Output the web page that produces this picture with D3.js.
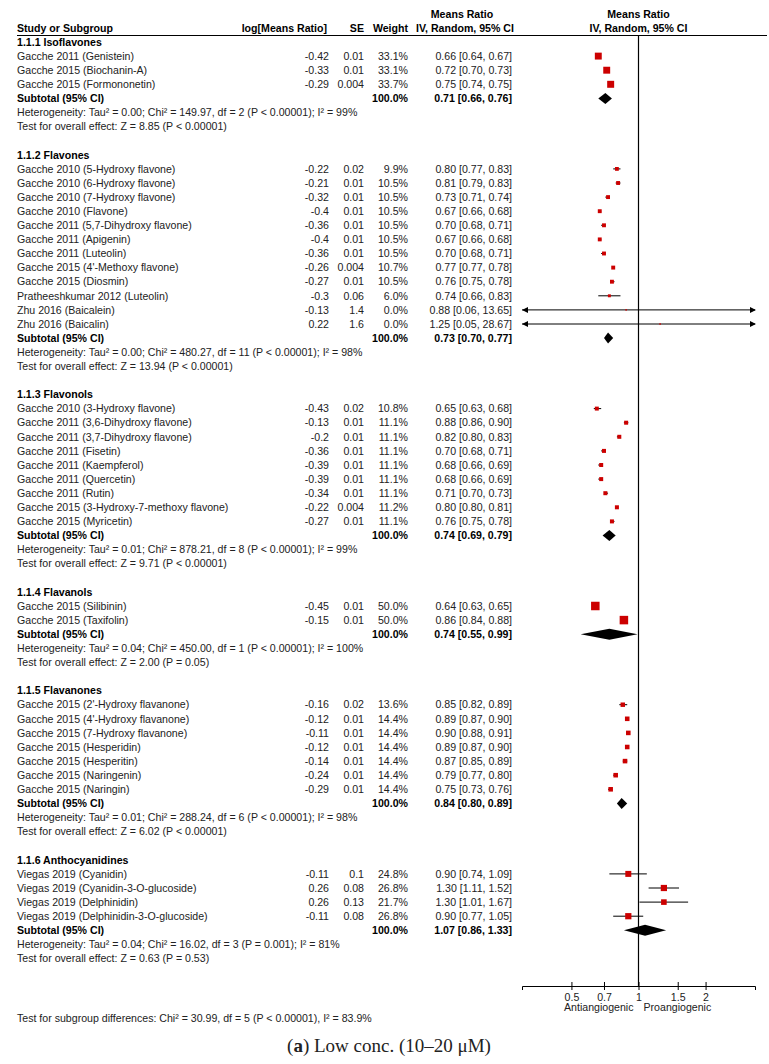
<!DOCTYPE html>
<html>
<head>
<meta charset="utf-8">
<script src="https://cdn.jsdelivr.net/npm/d3@7"></script>
<style>
  body { margin: 0; background: #fff; }
  text { font-family: "Liberation Sans", Arial, sans-serif; font-size: 10.6px; fill: #222; }
  .b { font-weight: bold; fill: #000; }
</style>
</head>
<body>
<div id="chart"></div>
<script>
// subgroups
const groupTitles = ["1.1.1 Isoflavones", "1.1.2 Flavones", "1.1.3 Flavonols", "1.1.4 Flavanols", "1.1.5 Flavanones", "1.1.6 Anthocyanidines"];
const subRatio = [0.71, 0.73, 0.74, 0.74, 0.84, 1.07];
const subLow   = [0.66, 0.70, 0.69, 0.55, 0.80, 0.86];
const subHigh  = [0.76, 0.77, 0.79, 0.99, 0.89, 1.33];
const heterogeneity = [
  "Heterogeneity: Tau² = 0.00; Chi² = 149.97, df = 2 (P < 0.00001); I² = 99%",
  "Heterogeneity: Tau² = 0.00; Chi² = 480.27, df = 11 (P < 0.00001); I² = 98%",
  "Heterogeneity: Tau² = 0.01; Chi² = 878.21, df = 8 (P < 0.00001); I² = 99%",
  "Heterogeneity: Tau² = 0.04; Chi² = 450.00, df = 1 (P < 0.00001); I² = 100%",
  "Heterogeneity: Tau² = 0.01; Chi² = 288.24, df = 6 (P < 0.00001); I² = 98%",
  "Heterogeneity: Tau² = 0.04; Chi² = 16.02, df = 3 (P = 0.001); I² = 81%"
];
const overallEffect = [
  "Test for overall effect: Z = 8.85 (P < 0.00001)",
  "Test for overall effect: Z = 13.94 (P < 0.00001)",
  "Test for overall effect: Z = 9.71 (P < 0.00001)",
  "Test for overall effect: Z = 2.00 (P = 0.05)",
  "Test for overall effect: Z = 6.02 (P < 0.00001)",
  "Test for overall effect: Z = 0.63 (P = 0.53)"
];

// studies
const studyGroup = [0,0,0, 1,1,1,1,1,1,1,1,1,1,1,1, 2,2,2,2,2,2,2,2,2, 3,3, 4,4,4,4,4,4,4, 5,5,5,5];
const studyNames = [
  "Gacche 2011 (Genistein)", "Gacche 2015 (Biochanin-A)", "Gacche 2015 (Formononetin)",
  "Gacche 2010 (5-Hydroxy flavone)", "Gacche 2010 (6-Hydroxy flavone)", "Gacche 2010 (7-Hydroxy flavone)",
  "Gacche 2010 (Flavone)", "Gacche 2011 (5,7-Dihydroxy flavone)", "Gacche 2011 (Apigenin)",
  "Gacche 2011 (Luteolin)", "Gacche 2015 (4'-Methoxy flavone)", "Gacche 2015 (Diosmin)",
  "Pratheeshkumar 2012 (Luteolin)", "Zhu 2016 (Baicalein)", "Zhu 2016 (Baicalin)",
  "Gacche 2010 (3-Hydroxy flavone)", "Gacche 2011 (3,6-Dihydroxy flavone)", "Gacche 2011 (3,7-Dihydroxy flavone)",
  "Gacche 2011 (Fisetin)", "Gacche 2011 (Kaempferol)", "Gacche 2011 (Quercetin)", "Gacche 2011 (Rutin)",
  "Gacche 2015 (3-Hydroxy-7-methoxy flavone)", "Gacche 2015 (Myricetin)",
  "Gacche 2015 (Silibinin)", "Gacche 2015 (Taxifolin)",
  "Gacche 2015 (2'-Hydroxy flavanone)", "Gacche 2015 (4'-Hydroxy flavanone)", "Gacche 2015 (7-Hydroxy flavanone)",
  "Gacche 2015 (Hesperidin)", "Gacche 2015 (Hesperitin)", "Gacche 2015 (Naringenin)", "Gacche 2015 (Naringin)",
  "Viegas 2019 (Cyanidin)", "Viegas 2019 (Cyanidin-3-O-glucoside)", "Viegas 2019 (Delphinidin)", "Viegas 2019 (Delphinidin-3-O-glucoside)"
];
const logMR = ["-0.42","-0.33","-0.29", "-0.22","-0.21","-0.32","-0.4","-0.36","-0.4","-0.36","-0.26","-0.27","-0.3","-0.13","0.22",
  "-0.43","-0.13","-0.2","-0.36","-0.39","-0.39","-0.34","-0.22","-0.27", "-0.45","-0.15",
  "-0.16","-0.12","-0.11","-0.12","-0.14","-0.24","-0.29", "-0.11","0.26","0.26","-0.11"];
const se = ["0.01","0.01","0.004", "0.02","0.01","0.01","0.01","0.01","0.01","0.01","0.004","0.01","0.06","1.4","1.6",
  "0.02","0.01","0.01","0.01","0.01","0.01","0.01","0.004","0.01", "0.01","0.01",
  "0.02","0.01","0.01","0.01","0.01","0.01","0.01", "0.1","0.08","0.13","0.08"];
const weights = [33.1,33.1,33.7, 9.9,10.5,10.5,10.5,10.5,10.5,10.5,10.7,10.5,6.0,0.0,0.0,
  10.8,11.1,11.1,11.1,11.1,11.1,11.1,11.2,11.1, 50.0,50.0,
  13.6,14.4,14.4,14.4,14.4,14.4,14.4, 24.8,26.8,21.7,26.8];
const ratio  = [0.66,0.72,0.75, 0.80,0.81,0.73,0.67,0.70,0.67,0.70,0.77,0.76,0.74,0.88,1.25,
  0.65,0.88,0.82,0.70,0.68,0.68,0.71,0.80,0.76, 0.64,0.86,
  0.85,0.89,0.90,0.89,0.87,0.79,0.75, 0.90,1.30,1.30,0.90];
const ciLow  = [0.64,0.70,0.74, 0.77,0.79,0.71,0.66,0.68,0.66,0.68,0.77,0.75,0.66,0.06,0.05,
  0.63,0.86,0.80,0.68,0.66,0.66,0.70,0.80,0.75, 0.63,0.84,
  0.82,0.87,0.88,0.87,0.85,0.77,0.73, 0.74,1.11,1.01,0.77];
const ciHigh = [0.67,0.73,0.75, 0.83,0.83,0.74,0.68,0.71,0.68,0.71,0.78,0.78,0.83,13.65,28.67,
  0.68,0.90,0.83,0.71,0.69,0.69,0.73,0.81,0.78, 0.65,0.88,
  0.89,0.90,0.91,0.90,0.89,0.80,0.76, 1.09,1.52,1.67,1.05];

const axisTicks = [0.5, 0.7, 1, 1.5, 2];
const subgroupDiff = "Test for subgroup differences: Chi² = 30.99, df = 5 (P < 0.00001), I² = 83.9%";

const width = 769, height = 1064;
const svg = d3.select("#chart").append("svg").attr("width", width).attr("height", height);

// build row list
const rows = [];
groupTitles.forEach((t, g) => {
  rows.push({ type: "title", g });
  studyGroup.forEach((sg, i) => { if (sg === g) rows.push({ type: "study", i }); });
  rows.push({ type: "subtotal", g });
  rows.push({ type: "het", g });
  rows.push({ type: "effect", g });
  rows.push({ type: "blank" });
});
rows.forEach((r, k) => r.k = k);

const y = d3.scaleLinear().domain([0, 1]).range([42, 56.1]);
const x = d3.scaleLog().domain([0.3, 1 / 0.3]).range([522, 755]);
const box = d3.scaleSqrt().domain([0, 50]).range([0, 8.5]);
const fmt2 = d3.format(".2f");
const ciText = (m, l, h) => `${fmt2(m)} [${fmt2(l)}, ${fmt2(h)}]`;
const axisY = 986;

const col = { name: 17, lmr: 329, se: 364, w: 408, ci: 512 };

// header
const hdr = svg.append("g");
hdr.append("text").attr("class", "b").attr("x", col.name).attr("y", 32).text("Study or Subgroup");
hdr.append("text").attr("class", "b").attr("x", 327).attr("y", 32).attr("text-anchor", "end").text("log[Means Ratio]");
hdr.append("text").attr("class", "b").attr("x", col.se).attr("y", 32).attr("text-anchor", "end").text("SE");
hdr.append("text").attr("class", "b").attr("x", col.w).attr("y", 32).attr("text-anchor", "end").text("Weight");
hdr.append("text").attr("class", "b").attr("x", 462).attr("y", 18).attr("text-anchor", "middle").text("Means Ratio");
hdr.append("text").attr("class", "b").attr("x", 465).attr("y", 32).attr("text-anchor", "middle").text("IV, Random, 95% CI");
hdr.append("text").attr("class", "b").attr("x", x(1)).attr("y", 18).attr("text-anchor", "middle").text("Means Ratio");
hdr.append("text").attr("class", "b").attr("x", x(1)).attr("y", 32).attr("text-anchor", "middle").text("IV, Random, 95% CI");
hdr.append("line").attr("x1", col.name).attr("x2", 767).attr("y1", 35.5).attr("y2", 35.5)
  .attr("stroke", "#000").attr("stroke-width", 1);

// null line
svg.append("line").attr("x1", x(1)).attr("x2", x(1)).attr("y1", 35.5).attr("y2", axisY)
  .attr("stroke", "#000").attr("stroke-width", 1.2);

// table rows
const rowG = svg.append("g").selectAll("g").data(rows).join("g")
  .attr("transform", d => `translate(0,${y(d.k)})`);

rowG.filter(d => d.type === "title").append("text").attr("class", "b")
  .attr("x", col.name).attr("dy", "0.35em").text(d => groupTitles[d.g]);

const st = rowG.filter(d => d.type === "study");
st.append("text").attr("x", col.name).attr("dy", "0.35em").text(d => studyNames[d.i]);
st.append("text").attr("x", col.lmr).attr("dy", "0.35em").attr("text-anchor", "end").text(d => logMR[d.i]);
st.append("text").attr("x", col.se).attr("dy", "0.35em").attr("text-anchor", "end").text(d => se[d.i]);
st.append("text").attr("x", col.w).attr("dy", "0.35em").attr("text-anchor", "end").text(d => weights[d.i].toFixed(1) + "%");
st.append("text").attr("x", col.ci).attr("dy", "0.35em").attr("text-anchor", "end")
  .text(d => ciText(ratio[d.i], ciLow[d.i], ciHigh[d.i]));

const [xmin, xmax] = x.domain();
st.append("line")
  .attr("x1", d => x(Math.max(ciLow[d.i], xmin))).attr("x2", d => x(Math.min(ciHigh[d.i], xmax)))
  .attr("stroke", "#000").attr("stroke-width", 1);
st.filter(d => ciLow[d.i] < xmin).append("path")
  .attr("d", `M${x.range()[0]},0 l6,-3 v6 z`).attr("fill", "#000");
st.filter(d => ciHigh[d.i] > xmax).append("path")
  .attr("d", `M${x.range()[1] + 1},0 l-6,-3 v6 z`).attr("fill", "#000");
st.append("rect")
  .attr("x", d => x(ratio[d.i]) - Math.max(box(weights[d.i]), 1.5) / 2)
  .attr("y", d => -Math.max(box(weights[d.i]), 1.5) / 2)
  .attr("width", d => Math.max(box(weights[d.i]), 1.5))
  .attr("height", d => Math.max(box(weights[d.i]), 1.5))
  .attr("fill", "#cc0000");

const sub = rowG.filter(d => d.type === "subtotal");
sub.append("text").attr("class", "b").attr("x", col.name).attr("dy", "0.35em").text("Subtotal (95% CI)");
sub.append("text").attr("class", "b").attr("x", col.w).attr("dy", "0.35em").attr("text-anchor", "end").text("100.0%");
sub.append("text").attr("class", "b").attr("x", col.ci).attr("dy", "0.35em").attr("text-anchor", "end")
  .text(d => ciText(subRatio[d.g], subLow[d.g], subHigh[d.g]));
sub.append("path").attr("fill", "#000")
  .attr("d", d => `M${x(subLow[d.g])},0 L${x(subRatio[d.g])},-5.5 L${x(subHigh[d.g])},0 L${x(subRatio[d.g])},5.5 Z`);

rowG.filter(d => d.type === "het").append("text").attr("x", col.name).attr("dy", "0.35em")
  .text(d => heterogeneity[d.g]);
rowG.filter(d => d.type === "effect").append("text").attr("x", col.name).attr("dy", "0.35em")
  .text(d => overallEffect[d.g]);

// axis
const ax = svg.append("g").attr("transform", `translate(0,${axisY})`)
  .call(d3.axisBottom(x).tickValues(axisTicks).tickFormat(d3.format("")).tickSizeOuter(0).tickSize(4));
ax.select(".domain").attr("stroke", "#000");
ax.selectAll(".tick line").attr("y1", -4).attr("y2", 4).attr("stroke", "#000");
ax.selectAll(".tick text").attr("y", 7).attr("dy", "0.71em")
  .style("font-family", "'Liberation Sans', Arial, sans-serif").style("font-size", "10.6px").attr("fill", "#222");

svg.append("text").attr("x", x(1) - 5).attr("y", 1011).attr("text-anchor", "end").text("Antiangiogenic");
svg.append("text").attr("x", x(1) + 5).attr("y", 1011).text("Proangiogenic");

svg.append("text").attr("x", col.name).attr("y", 1022).text(subgroupDiff);

// caption
const cap = svg.append("text").attr("x", 389).attr("y", 1052).attr("text-anchor", "middle")
  .style("font-family", "'Liberation Serif', 'Times New Roman', serif").style("font-size", "19px").attr("fill", "#000");
cap.append("tspan").text("(");
cap.append("tspan").style("font-weight", "bold").text("a");
cap.append("tspan").text(") Low conc. (10–20 μM)");
</script>
</body>
</html>
